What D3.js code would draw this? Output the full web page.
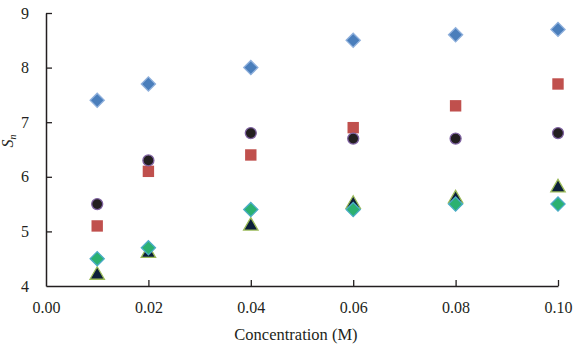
<!DOCTYPE html>
<html><head><meta charset="utf-8">
<script src="https://cdn.jsdelivr.net/npm/d3@7"></script>
<style>body{margin:0;background:#fff}svg{display:block}text{font-family:"Liberation Serif",serif;fill:#231f20}</style>
</head><body>
<svg id="c" width="584" height="347"></svg>
<script>
const conc = [0.01, 0.02, 0.04, 0.06, 0.08, 0.10];
const blueDiamond = [7.4, 7.7, 8.0, 8.5, 8.6, 8.7];
const redSquare = [5.1, 6.1, 6.4, 6.9, 7.3, 7.7];
const blackCircle = [5.5, 6.3, 6.8, 6.7, 6.7, 6.8];
const greenTriangle = [4.2, 4.6, 5.1, 5.5, 5.6, 5.8];
const greenDiamond = [4.5, 4.7, 5.4, 5.4, 5.5, 5.5];
const xTicks = [0, 0.02, 0.04, 0.06, 0.08, 0.10];
const yTicks = [4, 5, 6, 7, 8, 9];

const svg = d3.select("#c");
const x = d3.scaleLinear().domain([0, 0.10]).range([46, 558]);
const y = d3.scaleLinear().domain([4, 9]).range([286, 13]);

const gx = svg.append("g").attr("transform", "translate(0,286)")
  .call(d3.axisBottom(x).tickValues(xTicks).tickFormat(d3.format(".2f")).tickSizeInner(-6).tickSizeOuter(0).tickPadding(16));
const gy = svg.append("g").attr("transform", "translate(46,0)")
  .call(d3.axisLeft(y).tickValues(yTicks).tickFormat(d3.format("d")).tickSizeInner(-6).tickSizeOuter(0).tickPadding(17));
[gx, gy].forEach(g => {
  g.select(".domain").attr("stroke", "#231f20").attr("stroke-width", 1.5);
  g.selectAll(".tick line").attr("stroke", "#231f20").attr("stroke-width", 1.3);
  g.selectAll(".tick text").attr("font-family", "Liberation Serif").attr("font-size", 16).attr("fill", "#231f20");
});
gx.selectAll(".tick").filter(d => d === 0).select("line").remove();
gy.selectAll(".tick").filter(d => d === 4).select("line").remove();

svg.append("text").attr("x", 296).attr("y", 340).attr("text-anchor", "middle").attr("font-size", 16.5).text("Concentration (M)");
svg.append("text").attr("transform", "translate(13,141) rotate(-90)").attr("text-anchor", "middle").attr("font-size", 16)
  .attr("font-style", "italic").html('S<tspan font-size="10" dy="3">n</tspan>');

const diamond = d3.symbol().type(d3.symbolSquare).size(100);
const series = [
  {vals: redSquare, sym: d3.symbol().type(d3.symbolSquare).size(130), rot: 0, fill: "#c0504d", stroke: "none"},
  {vals: blackCircle, sym: d3.symbol().type(d3.symbolCircle).size(95), rot: 0, fill: "#231f20", stroke: "#8064a2"},
  {vals: blueDiamond, sym: diamond, rot: 45, fill: "#4a7ebb", stroke: "#8fb0dc"},
  {vals: greenTriangle, sym: d3.symbol().type(d3.symbolTriangle).size(90), rot: 0, fill: "#0c1f3a", stroke: "#9bbb59"},
  {vals: greenDiamond, sym: diamond, rot: 45, fill: "#2bb170", stroke: "#4bacc6"}
];
series.forEach(s => {
  svg.append("g").selectAll("path").data(s.vals).join("path")
    .attr("transform", (d, i) => `translate(${x(conc[i])},${y(d)}) rotate(${s.rot})`)
    .attr("d", s.sym)
    .attr("fill", s.fill).attr("stroke", s.stroke).attr("stroke-width", 1.3);
});
</script>
</body></html>
